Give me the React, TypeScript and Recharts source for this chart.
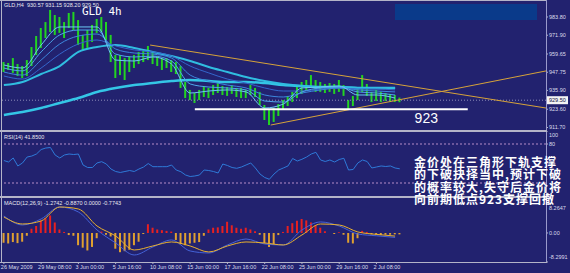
import React from 'react';
import {
  ComposedChart,
  Bar,
  Line,
  XAxis,
  YAxis,
  ReferenceLine,
  ReferenceDot,
  Cell,
} from 'recharts';

// GLD H4, 26 May - 2 Jul 2009, one entry per 8h (two 4h candles merged)
const barHigh = [
  954.4, 953.8, 957.0, 953.1, 951.8, 955.7, 964.2, 971.4, 976.6, 980.5,
  988.4, 985.1, 983.8, 980.5, 986.4, 987.1, 981.8, 972.1, 975.3, 978.6,
  982.5, 983.8, 980.5, 972.1, 959.0, 959.0, 957.0, 958.3, 959.0, 961.0,
  962.3, 964.9, 961.0, 958.3, 957.0, 957.0, 955.7, 954.4, 951.8, 941.4,
  936.2, 934.2, 936.2, 938.8, 937.5, 939.4, 940.7, 938.8, 938.1, 939.4,
  937.5, 937.5, 936.2, 939.4, 937.5, 934.9, 926.4, 923.1, 924.4, 927.0,
  929.6, 932.3, 934.9, 938.8, 941.4, 942.7, 945.9, 942.7, 941.4, 940.1,
  940.7, 940.1, 942.7, 939.4, 929.6, 932.3, 937.5, 945.9, 940.1, 934.9,
  936.2, 934.9, 934.2, 933.6, 932.9, 931.2,
];
const barLow = [
  947.9, 949.2, 947.3, 945.3, 944.0, 945.3, 951.8, 959.0, 963.6, 970.1,
  974.0, 972.1, 973.4, 970.1, 976.6, 975.3, 965.5, 962.3, 963.6, 967.5,
  973.4, 974.0, 968.8, 954.4, 944.0, 945.9, 942.7, 947.9, 950.5, 953.1,
  954.4, 955.7, 953.1, 951.8, 949.2, 950.5, 947.9, 946.6, 937.5, 930.9,
  929.6, 927.7, 929.6, 931.6, 930.9, 932.9, 934.2, 932.9, 932.3, 933.6,
  931.6, 930.9, 930.9, 932.9, 931.6, 926.4, 916.6, 913.3, 915.3, 919.2,
  923.1, 925.7, 928.3, 930.9, 933.6, 936.2, 937.5, 934.9, 934.9, 934.2,
  934.9, 933.6, 934.9, 932.3, 923.1, 925.7, 929.6, 934.9, 932.3, 928.3,
  929.0, 928.3, 929.0, 928.3, 928.3, 928.2,
];

// moving averages, read every 4th bar
const maStep = 4;
const maLong = [919.9, 921.8, 924.4, 927.7, 930.9, 934.9, 937.5, 939.4, 940.7, 942.0, 942.7, 942.0, 941.4, 941.4, 940.7, 939.4, 938.8, 938.1, 938.1, 937.5, 937.5, 937.5];
const maMid = [939.4, 941.4, 946.6, 951.8, 961.0, 964.2, 965.5, 963.6, 961.0, 958.3, 955.1, 951.2, 947.9, 944.6, 942.0, 940.1, 938.8, 938.1, 938.1, 937.5, 937.5, 937.5];
const ema1 = [952.5, 950.5, 965.5, 977.3, 977.3, 977.3, 955.7, 955.1, 957.7, 953.1, 934.2, 935.5, 936.2, 934.9, 924.4, 927.0, 937.5, 938.1, 938.8, 932.9, 932.9, 930.9];
const ema2 = [950.5, 948.6, 961.0, 972.1, 975.3, 975.3, 959.6, 957.7, 958.3, 955.1, 940.1, 938.1, 937.5, 936.2, 929.0, 928.3, 934.9, 937.5, 938.1, 934.9, 934.2, 932.9];
const ema3 = [947.9, 945.9, 955.7, 966.2, 971.4, 972.7, 962.9, 960.3, 959.6, 957.0, 945.9, 942.0, 939.4, 937.5, 932.9, 931.6, 934.2, 936.2, 937.5, 936.2, 935.5, 934.9];
const ema4 = [945.3, 943.3, 950.5, 959.6, 966.2, 968.8, 964.9, 962.3, 961.0, 958.3, 951.8, 947.3, 943.3, 940.7, 937.5, 935.5, 935.5, 936.8, 937.5, 936.8, 936.8, 936.2];

const rsi = [
  54.6, 52.3, 58.5, 46.2, 50.8, 60.0, 61.5, 64.6, 71.5, 73.8,
  74.6, 63.1, 58.5, 63.1, 64.6, 63.8, 64.6, 47.7, 43.8, 43.8,
  50.8, 52.8, 49.2, 41.5, 37.7, 36.2, 37.7, 39.2, 37.7, 41.5,
  44.6, 50.0, 45.1, 45.1, 45.1, 45.1, 47.7, 40.0, 37.4, 32.3,
  30.0, 30.8, 32.3, 40.0, 39.2, 37.7, 35.4, 49.2, 46.9, 43.8,
  42.6, 44.6, 47.7, 50.8, 43.1, 33.8, 28.5, 25.7, 33.8, 40.0,
  43.1, 46.2, 57.7, 53.8, 56.5, 60.0, 64.6, 67.2, 55.4, 53.1,
  55.4, 52.3, 56.2, 58.0, 40.0, 40.8, 50.8, 55.4, 53.1, 43.1,
  44.6, 46.2, 45.4, 46.2, 43.1, 41.85,
];

const macdHist = [
  -2.8, -3.0, -2.6, -2.9, -2.5, -0.8, 1.2, 2.0, 3.5, 4.2,
  5.0, 3.0, 1.0, 0.3, -0.6, -0.8, -3.5, -4.2, -5.0, -4.0,
  -1.5, 0.4, -0.5, -1.0, -4.5, -5.5, -5.2, -4.8, -3.5, -2.5,
  -0.3, 2.5, 1.5, 1.0, 0.8, 0.6, 0.4, -2.0, -3.2, -3.5,
  -3.0, -2.8, -2.6, -0.8, 1.0, 1.5, 1.6, 2.0, 3.2, 2.2,
  1.5, 1.2, 1.5, 1.0, 0.5, -0.5, -3.0, -4.0, -3.2, -0.6,
  0.3, 2.0, 2.8, 3.5, 4.0, 3.6, 3.0, 2.2, 1.5, 0.5,
  0.0, -0.3, 0.2, -0.5, -2.8, -3.0, -1.5, 0.6, 0.3, -0.4,
  -0.5, -0.6, -0.5, -0.5, -0.4, -0.4,
];
const macdMain = [4.86, 2.29, 4.0, 7.43, 6.0, 0.86, -2.86, -6.29, -4.0, -2.0, -5.15, -5.72, -3.43, -1.72, -3.15, -3.43, 0.86, 3.15, 2.0, -0.29, -0.8, -1.27];
const macdSignal = [4.58, 2.57, 3.43, 7.43, 6.86, 2.0, -0.86, -4.86, -3.72, -2.57, -3.72, -5.43, -3.72, -2.57, -2.86, -3.43, -0.57, 2.57, 2.29, 0.29, -0.4, -0.89];

const dateTicks = [0, 8, 16, 24, 32, 40, 48, 56, 64, 72, 80];
const dateLabels = [
  '26 May 2009', '29 May 08:00', '3 Jun 00:00', '5 Jun 16:00', '10 Jun 08:00',
  '15 Jun 00:00', '17 Jun 16:00', '22 Jun 08:00', '25 Jun 00:00', '29 Jun 16:00', '2 Jul 08:00',
];
const priceTicks = [911.7, 923.6, 935.9, 947.75, 959.65, 971.9, 983.8];
const lastPrice = 929.5;
const supportLevel = 923.6;
const rsiTicks = [100, 80];
const rsiLevels = [80, 20];
const macdTicks = [8.2647, 0, -8.2991];

const note = [
  '金价处在三角形下轨支撑',
  '的下破抉择当中,预计下破',
  '的概率较大,失守后金价将',
  '向前期低点923支撑回撤',
];

const pick = (arr: number[], i: number) =>
  i % maStep === 0 && arr[i / maStep] !== undefined ? arr[i / maStep] : null;

const rows = barHigh.map((h, i) => ({
  i,
  range: [barLow[i], h],
  maLong: pick(maLong, i),
  maMid: pick(maMid, i),
  ema1: pick(ema1, i),
  ema2: pick(ema2, i),
  ema3: pick(ema3, i),
  ema4: pick(ema4, i),
  rsi: rsi[i],
  hist: macdHist[i],
  main: pick(macdMain, i),
  signal: pick(macdSignal, i),
}));

const BG = '#22226f';
const FRAME = '#b4b4c8';
const AXIS_TXT = '#dcdcec';
const SMALL = 'Liberation Sans, Arial, sans-serif';
const X_DOMAIN: [number, number] = [-0.4, 116.4];
const margin = { top: 0, right: 0, bottom: 0, left: 2 };

// tighter line box for the CJK note, so stacked lines do not collide
const fontCss = `
@font-face { font-family: 'NoteCJK'; src: local('Noto Sans CJK SC Bold'), local('NotoSansCJKsc-Bold'); font-weight: 700; ascent-override: 88%; descent-override: 12%; line-gap-override: 0%; }
@font-face { font-family: 'NoteCJK'; src: local('Noto Sans CJK SC'), local('NotoSansCJKsc-Regular'); font-weight: 400; ascent-override: 88%; descent-override: 12%; line-gap-override: 0%; }
`;

const ribbon = [
  { key: 'ema4', color: '#3466cc' },
  { key: 'ema3', color: '#3c86dc' },
  { key: 'ema2', color: '#4ea6ea' },
  { key: 'ema1', color: '#6cc8f4' },
];

function PriceTick({ x, y, payload }: any) {
  const v = payload.value as number;
  if (v === lastPrice) {
    return (
      <g>
        <rect x={x - 2} y={y - 4} width={21} height={8} fill="#f4f4f4" />
        <text x={x} y={y + 2} fontSize={5.5} fontFamily={SMALL} fill="#101040">
          {v.toFixed(2)}
        </text>
      </g>
    );
  }
  return (
    <text x={x} y={y + 2} fontSize={5.5} fontFamily={SMALL} fill={AXIS_TXT}>
      {v.toFixed(2)}
    </text>
  );
}

function RsiTick({ x, y, payload }: any) {
  const v = payload.value as number;
  return (
    <text x={x} y={y + (v === 100 ? 6 : 2)} fontSize={5.5} fontFamily={SMALL} fill={AXIS_TXT}>
      {v}
    </text>
  );
}

function MacdTick({ x, y, payload }: any) {
  const v = payload.value as number;
  const label = v === 0 ? '0.00' : String(v);
  const dy = v > 0 ? 5.5 : v < 0 ? -3 : 2;
  return (
    <text x={x} y={y + dy} fontSize={5.5} fontFamily={SMALL} fill={AXIS_TXT}>
      {label}
    </text>
  );
}

function DateTick({ x, y, payload }: any) {
  const idx = dateTicks.indexOf(payload.value);
  return (
    <text x={x - 3} y={y + 4} fontSize={5.5} fontFamily={SMALL} fill={AXIS_TXT}>
      {dateLabels[idx]}
    </text>
  );
}

const abs = (left: number, top: number, width: number, height: number, background: string) => (
  <div style={{ position: 'absolute', left, top, width, height, background }} />
);

export default function App() {
  return (
    <div style={{ position: 'absolute', left: 0, top: 0, width: 570, height: 273, background: BG, overflow: 'hidden' }}>
      <style>{fontCss}</style>
      <div style={{ position: 'absolute', left: 0, top: 0 }}>
        <ComposedChart width={570} height={131} data={rows} margin={{ ...margin, top: 3, bottom: 1 }}>
          <XAxis dataKey="i" type="number" domain={X_DOMAIN} hide allowDataOverflow />
          <YAxis
            orientation="right"
            width={24}
            domain={[910.06, 992.93]}
            ticks={[...priceTicks, lastPrice]}
            interval={0}
            tick={PriceTick}
            tickSize={2}
            tickMargin={1}
            axisLine={false}
            tickLine={{ stroke: FRAME }}
            allowDataOverflow
          />
          <ReferenceLine y={lastPrice} stroke="#8c8cb8" strokeDasharray="1 2" />
          <Bar dataKey="range" barSize={2} fill="#22d422" isAnimationActive={false} />
          <Line dataKey="maLong" type="monotone" stroke="#34c6e6" strokeWidth={2.5} dot={false} connectNulls isAnimationActive={false} />
          <Line dataKey="maMid" type="monotone" stroke="#30bde0" strokeWidth={2} dot={false} connectNulls isAnimationActive={false} />
          {ribbon.map((r) => (
            <Line key={r.key} dataKey={r.key} type="monotone" stroke={r.color} strokeWidth={1} dot={false} connectNulls isAnimationActive={false} />
          ))}
          <ReferenceLine segment={[{ x: 31.4, y: 965.5 }, { x: 116.4, y: 924.4 }]} stroke="#d6a23a" ifOverflow="visible" />
          <ReferenceLine segment={[{ x: 57.3, y: 913.3 }, { x: 116.4, y: 948.6 }]} stroke="#d6a23a" ifOverflow="visible" />
          <ReferenceLine segment={[{ x: 41.0, y: supportLevel }, { x: 99.6, y: supportLevel }]} stroke="#ffffff" strokeWidth={2} ifOverflow="visible" />
          <ReferenceDot
            x={90.7}
            y={914.6}
            r={0}
            ifOverflow="visible"
            shape={(p: any) => (
              <text x={p.cx} y={p.cy} textAnchor="middle" fontSize={14} fontFamily="Liberation Sans, Arial" fill="#ffffff">
                923
              </text>
            )}
          />
        </ComposedChart>
      </div>

      <div style={{ position: 'absolute', left: 0, top: 131 }}>
        <ComposedChart width={570} height={65} data={rows} margin={margin}>
          <XAxis dataKey="i" type="number" domain={X_DOMAIN} hide allowDataOverflow />
          <YAxis
            orientation="right"
            width={24}
            domain={[0, 100]}
            ticks={rsiTicks}
            interval={0}
            tick={RsiTick}
            tickSize={2}
            tickMargin={1}
            axisLine={false}
            tickLine={{ stroke: FRAME }}
          />
          {rsiLevels.map((lv) => (
            <ReferenceLine key={lv} y={lv} stroke="#b48cc8" strokeDasharray="2 2" />
          ))}
          <Line dataKey="rsi" type="linear" stroke="#2f7ad8" strokeWidth={1} dot={false} isAnimationActive={false} />
        </ComposedChart>
      </div>

      <div style={{ position: 'absolute', left: 0, top: 196 }}>
        <ComposedChart width={570} height={77} data={rows} margin={{ ...margin, top: 2 }}>
          <XAxis
            dataKey="i"
            type="number"
            domain={X_DOMAIN}
            ticks={dateTicks}
            interval={0}
            height={11}
            tick={DateTick}
            tickSize={2}
            tickMargin={1}
            axisLine={false}
            tickLine={{ stroke: FRAME }}
            allowDataOverflow
          />
          <YAxis
            orientation="right"
            width={24}
            domain={[-8.3, 10]}
            ticks={macdTicks}
            interval={0}
            tick={MacdTick}
            tickSize={2}
            tickMargin={1}
            axisLine={false}
            tickLine={{ stroke: FRAME }}
            allowDataOverflow
          />
          <Bar dataKey="hist" barSize={2} isAnimationActive={false}>
            {rows.map((r) => (
              <Cell key={r.i} fill={r.hist >= 0 ? '#e82020' : '#e0a030'} />
            ))}
          </Bar>
          <Line dataKey="main" type="monotone" stroke="#4462d8" strokeWidth={1} dot={false} connectNulls isAnimationActive={false} />
          <Line dataKey="signal" type="monotone" stroke="#e8b030" strokeWidth={1} dot={false} connectNulls isAnimationActive={false} />
        </ComposedChart>
      </div>

      {/* window frame and panel dividers */}
      {abs(0, 0, 547, 1, FRAME)}
      {abs(1, 0, 1, 263, FRAME)}
      {abs(546, 0, 1, 263, '#9a9acc')}
      {abs(0, 130, 547, 2, FRAME)}
      {abs(0, 196, 547, 2, FRAME)}
      {abs(0, 262, 547, 1, FRAME)}
      {abs(395, 4, 142, 16, '#0a3a8a')}

      <div style={{ position: 'absolute', left: 4, top: 2, fontSize: 5.5, lineHeight: '7px', fontFamily: SMALL, color: '#e8e8f0', whiteSpace: 'pre' }}>
        GLD,H4  930.57 931.15 928.20 929.50
      </div>
      <div style={{ position: 'absolute', left: 82, top: 6, fontSize: 11, lineHeight: '11px', fontFamily: 'DejaVu Sans Mono, monospace', color: '#ffffff' }}>
        GLD 4h
      </div>
      <div style={{ position: 'absolute', left: 4, top: 134, fontSize: 5.5, lineHeight: '7px', fontFamily: SMALL, color: '#e8e8f0' }}>
        RSI(14) 41.8500
      </div>
      <div style={{ position: 'absolute', left: 4, top: 200, fontSize: 5.5, lineHeight: '7px', fontFamily: SMALL, color: '#e8e8f0' }}>
        MACD(12,26,9) -1.2742 -0.8870 0.0000 -0.7743
      </div>
      <div
        style={{
          position: 'absolute',
          left: 414,
          top: 155.5,
          fontSize: 12,
          letterSpacing: 1,
          lineHeight: '12.5px',
          fontWeight: 700,
          fontFamily: 'NoteCJK, "Noto Sans CJK SC", sans-serif',
          color: '#ffffff',
          whiteSpace: 'pre',
        }}
      >
        {note.map((line) => (
          <div key={line}>{line}</div>
        ))}
      </div>
    </div>
  );
}
